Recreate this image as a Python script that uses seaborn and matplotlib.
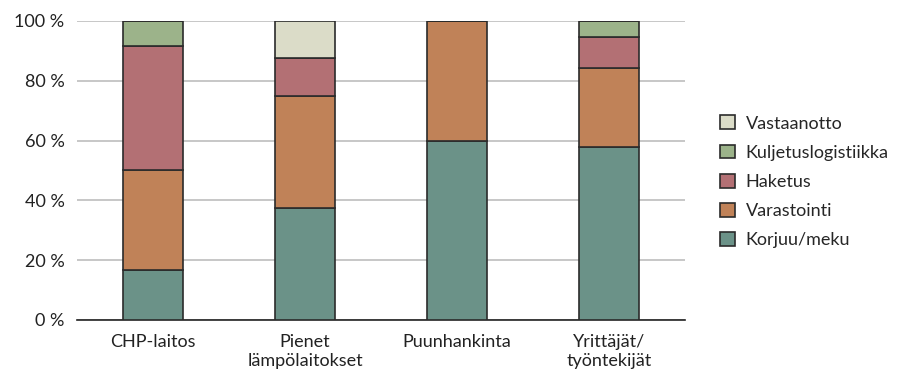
import matplotlib
matplotlib.use("Agg")
import matplotlib.pyplot as plt
import seaborn as sns
import pandas as pd
import numpy as np
from matplotlib.patches import Patch

categories = ["CHP-laitos", "Pienet\nlämpölaitokset", "Puunhankinta", "Yrittäjät/\ntyöntekijät"]
series = ["Korjuu/meku", "Varastointi", "Haketus", "Kuljetuslogistiikka", "Vastaanotto"]
korjuu = [16.7, 37.5, 60.0, 57.9]
varastointi = [33.3, 37.5, 40.0, 26.3]
haketus = [41.7, 12.5, 0.0, 10.5]
kuljetus = [8.3, 0.0, 0.0, 5.3]
vastaanotto = [0.0, 12.5, 0.0, 0.0]
yticks = [0, 20, 40, 60, 80, 100]
ytick_labels = ["0 %", "20 %", "40 %", "60 %", "80 %", "100 %"]

colors = ["#6b9288", "#c08258", "#b37074", "#9cb38a", "#dbdcc8"]
values = [korjuu, varastointi, haketus, kuljetus, vastaanotto]

sns.set_theme(style="white")
plt.rcParams["font.family"] = ["Lato", "DejaVu Sans"]

fig = plt.figure(figsize=(8.97, 3.71), dpi=100)
ax = fig.add_axes([0.0858, 0.1375, 0.6779, 0.8059])

bottom = np.zeros(len(categories))
for name, vals, col in zip(series, values, colors):
    df = pd.DataFrame({"cat": categories, "val": vals})
    sns.barplot(data=df, x="cat", y="val", order=categories, color=col,
                width=0.4, bottom=bottom, edgecolor="#2b2b2b", linewidth=1.2,
                saturation=1, ax=ax, zorder=3)
    bottom = bottom + np.array(vals)

ax.set_ylim(0, 100)
ax.set_xlim(-0.5, 3.5)
ax.set_yticks(yticks)
ax.set_yticklabels(ytick_labels, fontsize=13, color="#222222")
ax.yaxis.grid(True, color="#bdbdbd", linewidth=1.2, zorder=0)
ax.set_axisbelow(True)
ax.set_xlabel("")
ax.set_ylabel("")
for s in ["top", "right", "left"]:
    ax.spines[s].set_visible(False)
ax.spines["bottom"].set_color("#222222")
ax.spines["bottom"].set_linewidth(1.2)

ax.set_xticks(range(len(categories)))
ax.set_xticklabels(categories, fontsize=13, color="#222222", linespacing=1.25)
ax.tick_params(axis="x", length=0, pad=10)
ax.tick_params(axis="y", length=0, pad=9)
# boundary ticks between categories
ax.set_xticks([-0.5, 0.5, 1.5, 2.5, 3.5], minor=True)
ax.tick_params(axis="x", which="minor", length=5, width=1.2, color="#222222", direction="out")

handles = [Patch(facecolor=c, edgecolor="#2b2b2b", linewidth=1.2, label=n)
           for n, c in zip(series, colors)][::-1]
fig.legend(handles=handles, loc="center left", bbox_to_anchor=(0.795, 0.51),
           frameon=False, fontsize=13, handlelength=0.8, handleheight=0.8,
           handletextpad=0.6, labelspacing=0.72, borderaxespad=0)

fig.savefig("out.png", dpi=100)
